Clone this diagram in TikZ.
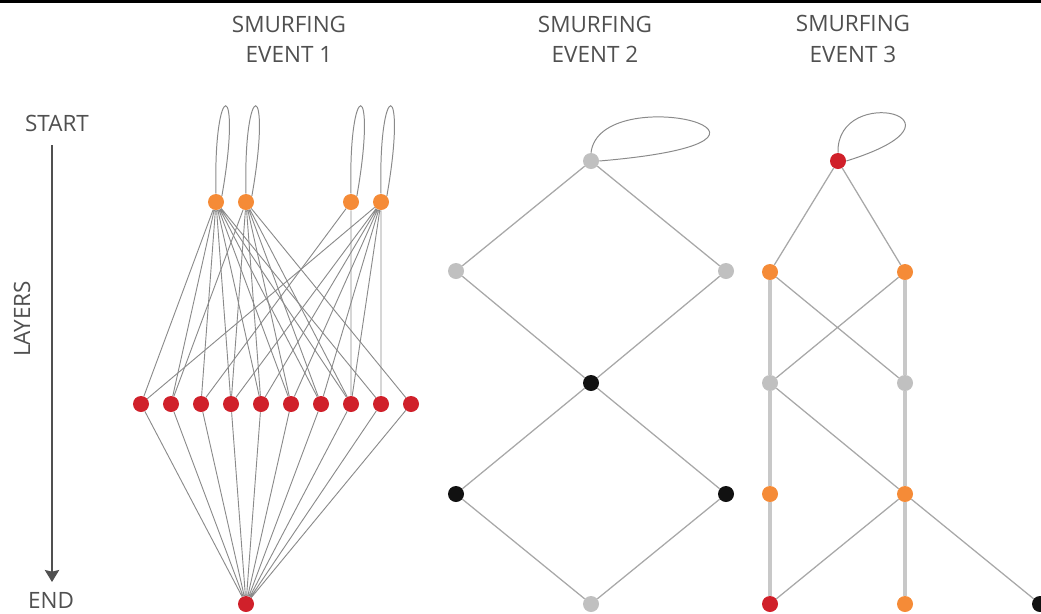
\documentclass[tikz,border=0pt]{standalone}
\usepackage{fontspec}
\setmainfont{Open Sans}
\usetikzlibrary{arrows.meta}

\definecolor{smred}{HTML}{D0202A}
\definecolor{smorange}{HTML}{F58B37}
\definecolor{smgray}{HTML}{C0C0C0}
\definecolor{smblack}{HTML}{111111}
\definecolor{smtext}{HTML}{505050}
\definecolor{smedge}{HTML}{8A8A8A}
\definecolor{smlight}{HTML}{A8A8A8}
\definecolor{smrail}{HTML}{C8C8C8}

\tikzset{
  dot/.style={circle, inner sep=0pt, minimum size=0.4cm},
  reddot/.style={dot, fill=smred},
  orangedot/.style={dot, fill=smorange},
  graydot/.style={dot, fill=smgray},
  blackdot/.style={dot, fill=smblack},
  caption/.style={text=smtext, align=center, font=\fontsize{16}{21.5}\selectfont},
  thinedge/.style={draw=smedge, line width=0.65pt},
  softedge/.style={draw=smlight, line width=0.9pt},
  railedge/.style={draw=smrail, line width=2.2pt},
  loopedge/.style={draw=smedge, line width=0.7pt},
}

\begin{document}
\begin{tikzpicture}[x=0.025cm, y=-0.025cm]
                    \useasboundingbox (0,0) rectangle (1041,613);
                    \clip (0,0) rectangle (1041,613);

                    % Rule at the top
                    \fill [black] (0,0) rectangle (1041,3);

                    % Titles
                    \node [caption] (title1) at (289,39) {SMURFING\\EVENT 1};
                    \node [caption] (title2) at (595,39) {SMURFING\\EVENT 2};
                    \node [caption] (title3) at (853,39) {SMURFING\\EVENT 3};

                    % Layer axis
                    \node [caption] (start) at (57,123) {START};
                    \node [caption] (end) at (51,600) {END};
                    \node [caption, rotate=90] (layers) at (22,319) {LAYERS};
                    \coordinate (axtop) at (52,145);
                    \coordinate (axbot) at (52,582);
                    \draw [smtext, line width=1.2pt, -{Stealth[length=0.3cm, width=0.36cm, inset=0.04cm]}] (axtop) -- (axbot);%

                    % Event 1: first layer
                    \node [orangedot] (o1) at (216,202) {};
                    \node [orangedot] (o2) at (246,202) {};
                    \node [orangedot] (o3) at (351,202) {};
                    \node [orangedot] (o4) at (381,202) {};

                    % Event 1: middle layer
                    \node [reddot] (r1) at (141,404) {};
                    \node [reddot] (r2) at (171,404) {};
                    \node [reddot] (r3) at (201,404) {};
                    \node [reddot] (r4) at (231,404) {};
                    \node [reddot] (r5) at (261,404) {};
                    \node [reddot] (r6) at (291,404) {};
                    \node [reddot] (r7) at (321,404) {};
                    \node [reddot] (r8) at (351,404) {};
                    \node [reddot] (r9) at (381,404) {};
                    \node [reddot] (r10) at (411,404) {};

                    % Event 1: last layer
                    \node [reddot] (e1end) at (246,604) {};

                    % Event 1: self loops
                    \draw [loopedge] (o1.north) .. controls (213,76) and (243,76) .. (o1.north east);%
                    \draw [loopedge] (o2.north) .. controls (243,76) and (273,76) .. (o2.north east);%
                    \draw [loopedge] (o3.north) .. controls (348,76) and (378,76) .. (o3.north east);%
                    \draw [loopedge] (o4.north) .. controls (378,76) and (408,76) .. (o4.north east);%

                    % Event 1: first to middle layer
                    \draw [thinedge] (o1) -- (r1) (o1) -- (r2) (o1) -- (r3) (o1) -- (r4) (o1) -- (r5)
                                     (o1) -- (r6) (o1) -- (r7) (o1) -- (r8) (o1) -- (r9);%
                    \draw [thinedge] (o2) -- (r2) (o2) -- (r4) (o2) -- (r5) (o2) -- (r6)
                                     (o2) -- (r7) (o2) -- (r8) (o2) -- (r10);%
                    \draw [thinedge] (o3) -- (r3) (o3) -- (r8);%
                    \draw [thinedge] (o4) -- (r1) (o4) -- (r4) (o4) -- (r5) (o4) -- (r6)
                                     (o4) -- (r7) (o4) -- (r8) (o4) -- (r9);%

                    % Event 1: middle to last layer
                    \draw [thinedge] (r1) -- (e1end) (r2) -- (e1end) (r3) -- (e1end) (r4) -- (e1end)
                                     (r5) -- (e1end) (r6) -- (e1end) (r7) -- (e1end) (r8) -- (e1end)
                                     (r9) -- (e1end) (r10) -- (e1end);%

                    % Event 2: nodes
                    \node [graydot] (t2) at (591,161) {};
                    \node [graydot] (a2) at (456,271) {};
                    \node [graydot] (b2) at (726,271) {};
                    \node [blackdot] (c2) at (591,383) {};
                    \node [blackdot] (d2) at (456,494) {};
                    \node [blackdot] (f2) at (726,494) {};
                    \node [graydot] (g2) at (591,604) {};

                    % Event 2: edges
                    \draw [loopedge] (t2.north) .. controls (600,78) and (848,140) .. (t2.east);%
                    \draw [softedge] (t2) -- (a2) (t2) -- (b2) (a2) -- (c2) (b2) -- (c2);%
                    \draw [softedge] (c2) -- (d2) (c2) -- (f2) (d2) -- (g2) (f2) -- (g2);%

                    % Event 3: nodes
                    \node [reddot] (t3) at (838,161) {};
                    \node [orangedot] (a3) at (770,272) {};
                    \node [orangedot] (b3) at (905,272) {};
                    \node [graydot] (c3) at (770,383) {};
                    \node [graydot] (d3) at (905,383) {};
                    \node [orangedot] (f3) at (770,494) {};
                    \node [orangedot] (g3) at (905,494) {};
                    \node [reddot] (h3) at (770,604) {};
                    \node [orangedot] (k3) at (905,604) {};
                    \node [blackdot] (m3) at (1040,604) {};

                    % Event 3: edges
                    \draw [loopedge] (t3.north) .. controls (836,82) and (985,118) .. (t3.east);%
                    \draw [railedge] (a3) -- (c3) (c3) -- (f3) (f3) -- (h3);%
                    \draw [railedge] (b3) -- (d3) (d3) -- (g3) (g3) -- (k3);%
                    \draw [softedge] (t3) -- (a3) (t3) -- (b3);%
                    \draw [softedge] (a3) -- (d3) (b3) -- (c3) (c3) -- (g3);%
                    \draw [softedge] (g3) -- (h3) (g3) -- (m3);%
\end{tikzpicture}
\end{document}
